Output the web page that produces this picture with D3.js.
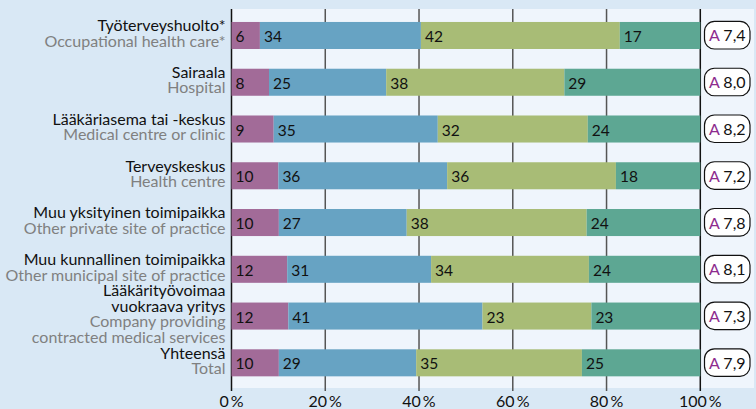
<!DOCTYPE html>
<html><head><meta charset="utf-8">
<script src="https://cdn.jsdelivr.net/npm/d3@7/dist/d3.min.js"></script>
<style>
html,body{margin:0;padding:0;background:#d9e8f5;}
svg{display:block;font-family:Lato, "Open Sans", sans-serif;}
</style></head><body>
<svg id="c" width="756" height="409"></svg>
<script>
const labelsFi = [["Työterveyshuolto*"],["Sairaala"],["Lääkäriasema tai -keskus"],["Terveyskeskus"],["Muu yksityinen toimipaikka"],["Muu kunnallinen toimipaikka"],["Lääkärityövoimaa","vuokraava yritys"],["Yhteensä"]];
const labelsEn = [["Occupational health care*"],["Hospital"],["Medical centre or clinic"],["Health centre"],["Other private site of practice"],["Other municipal site of practice"],["Company providing","contracted medical services"],["Total"]];
const s1 = [6,8,9,10,10,12,12,10];
const s2 = [34,25,35,36,27,31,41,29];
const s3 = [42,38,32,36,38,34,23,35];
const s4 = [17,29,24,18,24,24,23,25];
const ratings = ["7,4","8,0","8,2","7,2","7,8","8,1","7,3","7,9"];
const ticks = [0,20,40,60,80,100];
const colors = ["#a26b98","#67a3c3","#a8bc76","#5da793"];

const svg = d3.select("#c");
const x = d3.scaleLinear().domain([0,100]).range([231.5,700.3]);
const y = d3.scaleBand().domain(d3.range(8)).range([12.1,386.2]).paddingInner(0.422).paddingOuter(0.211);

// plot background
svg.append("rect").attr("x",x(0)).attr("y",9).attr("width",754-x(0)).attr("height",388-9).attr("fill","#eff5fc");

// gridlines
ticks.forEach(t=>{
  svg.append("line").attr("x1",x(t)).attr("x2",x(t)).attr("y1",9).attr("y2",391)
    .attr("stroke",(t===0||t===100)?"#111":"#555").attr("stroke-width",1.5);
});

const rows = d3.range(8).map(i=>{
  const v=[s1[i],s2[i],s3[i],s4[i]]; const sum=d3.sum(v);
  let c=0; return v.map((d,k)=>{const o={i,k,v:d,x0:c/sum*100,x1:(c+d)/sum*100}; c+=d; return o;});
});

const g = svg.append("g");
rows.forEach(r=>r.forEach(s=>{
  g.append("rect").attr("x",x(s.x0)).attr("y",y(s.i)).attr("width",x(s.x1)-x(s.x0)).attr("height",y.bandwidth()).attr("fill",colors[s.k]);
  g.append("text").attr("x",x(s.x0)+4).attr("y",y(s.i)+y.bandwidth()/2+6.5).attr("font-size",15.5).attr("fill","#111").text(s.v);
}));

// category labels
d3.range(8).forEach(i=>{
  const lines=[...labelsFi[i].map(t=>({t,c:"#111"})),...labelsEn[i].map(t=>({t,c:"#808080"}))];
  const cy=y(i)+y.bandwidth()/2; const n=lines.length;
  lines.forEach((l,j)=>{
    svg.append("text").attr("x",225.5).attr("y",cy+3.5+(j-(n-1)/2)*15.5).attr("text-anchor","end")
      .attr("font-size",16).attr("fill",l.c).text(l.t);
  });
  // rating box
  const bx=704.5, by=y(i)-0.5, bw=45.5, bh=y.bandwidth()+0.5;
  svg.append("rect").attr("x",bx).attr("y",by).attr("width",bw).attr("height",bh).attr("rx",10).attr("fill","#fff").attr("stroke","#111").attr("stroke-width",1.2);
  const t=svg.append("text").attr("x",bx+bw/2).attr("y",cy+6).attr("text-anchor","middle").attr("font-size",16);
  t.append("tspan").attr("fill","#8e2b8e").text("A");
  t.append("tspan").attr("fill","#111").text("\u00a0"+ratings[i]);
});

// x axis labels
ticks.forEach(t=>{
  svg.append("text").attr("x",x(t)).attr("y",407).attr("text-anchor","middle").attr("font-size",16).attr("fill","#111").text(t+"\u2009%");
});
</script></body></html>
